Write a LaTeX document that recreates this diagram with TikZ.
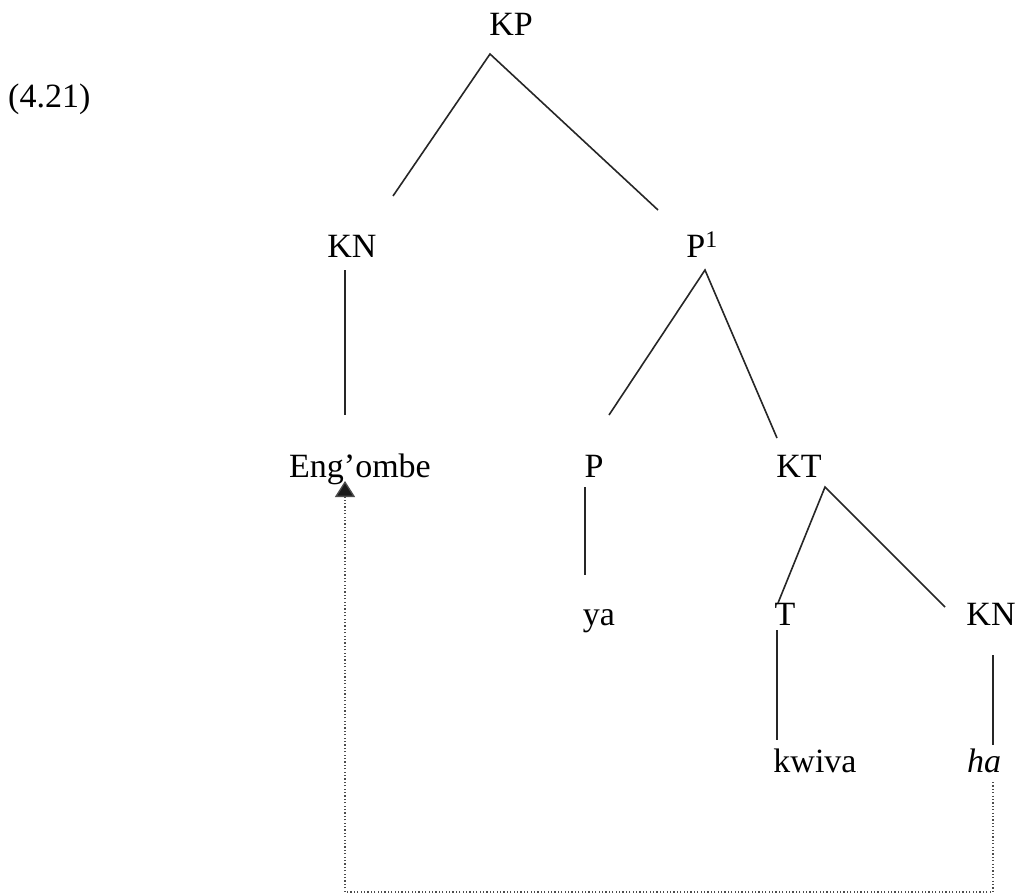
\documentclass[tikz,border=0pt]{standalone}
\usepackage{fontspec}
\setmainfont{Liberation Serif}
\usetikzlibrary{arrows.meta}
\tikzstyle{cat}=[inner sep=0pt, anchor=base, font=\fontsize{34}{40}\selectfont]
\tikzstyle{branch}=[line width=1.6pt, black!85]
\tikzstyle{trace}=[line width=1.3pt, black!70, dash pattern=on 1.2pt off 2.2pt, -{Triangle[width=20pt,length=16pt,fill=black!90]}]

\begin{document}
\begin{tikzpicture}[x=1pt, y=-1pt]
				\fill[white] (0,0) rectangle (1016,894);
				\useasboundingbox (0,0) rectangle (1016,894);
				% labels
				\node[cat, anchor=base west] (num) at (8,107) {(4.21)};
				\node[cat] (kp) at (511,35) {KP};
				\node[cat] (kn) at (352,257) {KN};
				\node[cat] (pbar) at (702,257) {P\textsuperscript{1}};
				\node[cat] (eng) at (360,477) {Eng’ombe};
				\node[cat] (p) at (594,477) {P};
				\node[cat] (kt) at (799,477) {KT};
				\node[cat] (ya) at (599,625) {ya};
				\node[cat] (t) at (785,625) {T};
				\node[cat] (knb) at (991,625) {KN};
				\node[cat] (kwiva) at (815,772) {kwiva};
				\node[cat] (ha) at (984,772) {\itshape ha};
				% branches
				\draw[branch] ([shift={(41,-61)}] kn.base) -- ([shift={(-21,19)}] kp.base) -- ([shift={(-44,-47)}] pbar.base);
				\draw[branch] ([shift={(-7,13)}] kn.base) -- ([shift={(-15,-62)}] eng.base);
				\draw[branch] ([shift={(15,-62)}] p.base) -- ([shift={(3,13)}] pbar.base) -- ([shift={(-22,-39)}] kt.base);
				\draw[branch] ([shift={(-9,10)}] p.base) -- ([shift={(-14,-50)}] ya.base);
				\draw[branch] ([shift={(-7,-22)}] t.base) -- ([shift={(26,10)}] kt.base) -- ([shift={(-46,-18)}] knb.base);
				\draw[branch] ([shift={(-8,5)}] t.base) -- ([shift={(-38,-32)}] kwiva.base);
				\draw[branch] ([shift={(2,30)}] knb.base) -- ([shift={(9,-27)}] ha.base);
				% movement
				\coordinate (low) at (0,892);
				\draw[trace] ([shift={(9,10)}] ha.base) |- ([shift={(-15,0)}] eng.base |- low) -- ([shift={(-15,4)}] eng.base);
			\end{tikzpicture}
\end{document}
